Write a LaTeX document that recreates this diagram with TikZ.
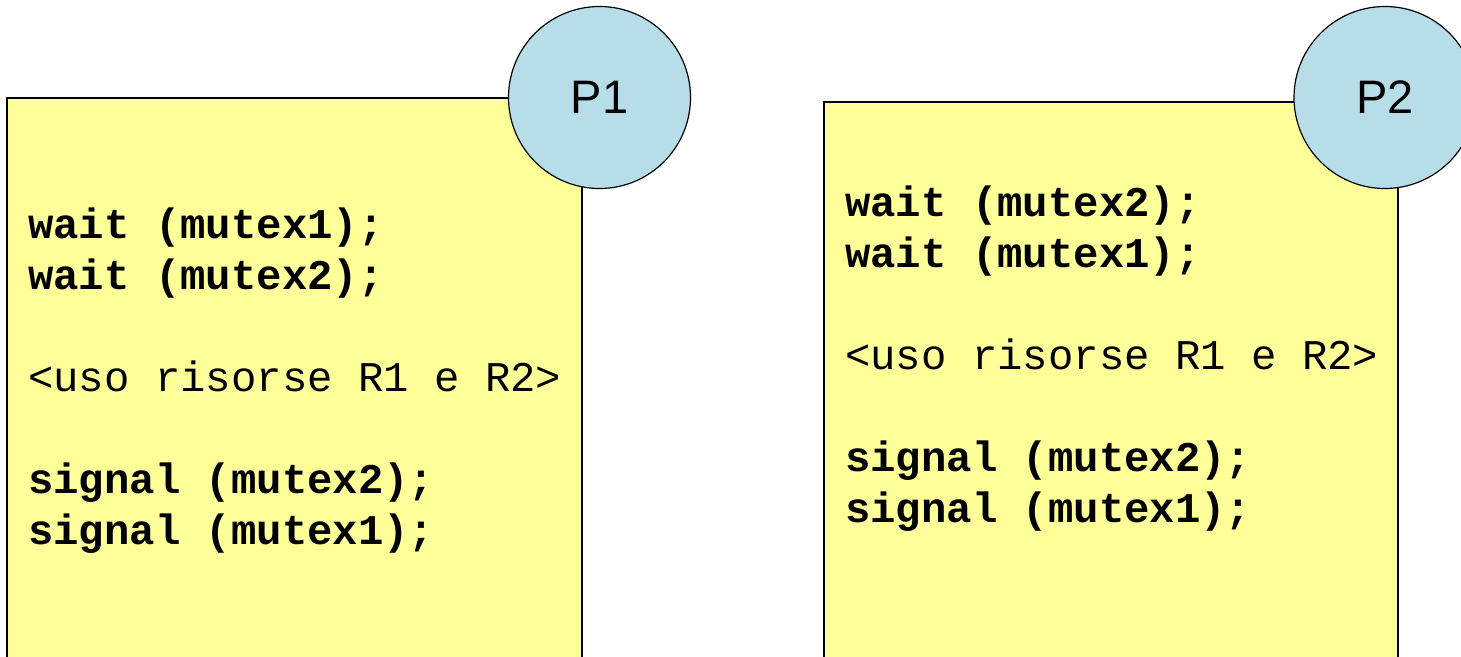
\documentclass[tikz,border=0pt]{standalone}
\usepackage{fontspec}
\setmainfont{Liberation Sans}
\setmonofont{Liberation Mono}
\begin{document}
\begin{tikzpicture}[x=1pt,y=-1pt,
  procbox/.style={draw=black,line width=1.2pt,fill=codeyellow},
  proc/.style={circle,draw=black,line width=1.2pt,fill=procblue,
    minimum size=182pt,inner sep=0pt,font=\fontsize{47}{56}\selectfont},
  codeline/.style={anchor=base west,inner sep=0pt,
    font=\fontsize{42.3}{51}\selectfont\ttfamily\bfseries},
  plainline/.style={codeline,font=\fontsize{42.3}{51}\selectfont\ttfamily}]
\definecolor{codeyellow}{HTML}{FFFF99}
\definecolor{procblue}{HTML}{B7DEE8}
\useasboundingbox (0,0) rectangle (1461,656);
\clip (0,0) rectangle (1461,656);

% process P1
\draw[procbox] (7,98) rectangle (582,720);
\node[proc] (p1) at (599.5,97.5) {P1};
\node[codeline]  (a1) at (28,238) {wait (mutex1);};
\node[codeline]  (a2) at (28,289) {wait (mutex2);};
\node[plainline] (a3) at (28,391) {<uso risorse R1 e R2>};
\node[codeline]  (a4) at (28,493) {signal (mutex2);};
\node[codeline]  (a5) at (28,544) {signal (mutex1);};

% process P2
\draw[procbox] (824,102) rectangle (1398,720);
\node[proc] (p2) at (1385,97.5) {P2};
\node[codeline]  (b1) at (845,216) {wait (mutex2);};
\node[codeline]  (b2) at (845,267) {wait (mutex1);};
\node[plainline] (b3) at (845,369) {<uso risorse R1 e R2>};
\node[codeline]  (b4) at (845,471) {signal (mutex2);};
\node[codeline]  (b5) at (845,522) {signal (mutex1);};
\end{tikzpicture}
\end{document}
